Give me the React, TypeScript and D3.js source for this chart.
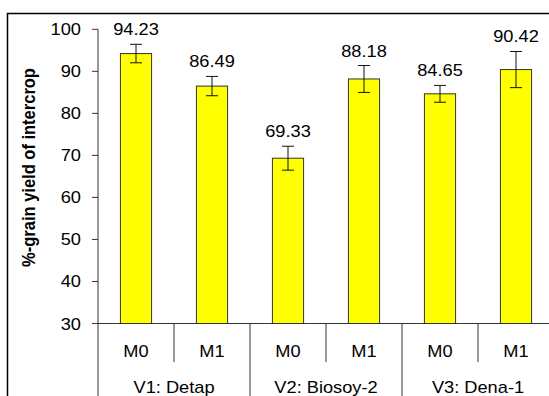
import React from "react";
import * as d3 from "d3";

const categories = ["M0", "M1", "M0", "M1", "M0", "M1"];
const groups = ["V1: Detap", "V2: Biosoy-2", "V3: Dena-1"];
const values = [94.23, 86.49, 69.33, 88.18, 84.65, 90.42];
const errors = [2.2, 2.3, 2.85, 3.2, 2.0, 4.3];
const yTicks = [30, 40, 50, 60, 70, 80, 90, 100];
const yLabel = "%-grain yield of intercrop";

const W = 549;
const H = 396;
const FONT = "Arial, 'Liberation Sans', sans-serif";
const SX = 1.14;

export default function App() {
  const x = d3
    .scaleBand<number>()
    .domain(values.map((_, i) => i))
    .range([98, 554])
    .paddingInner(0.59)
    .paddingOuter(0.295);
  const y = d3.scaleLinear().domain([30, 100]).range([323.5, 29.3]);
  const step = x.step();
  const x0 = 98;
  const axisY = y(30);

  const T = (props: {
    x: number;
    y: number;
    anchor?: string;
    size?: number;
    children: React.ReactNode;
  }) => (
    <text
      transform={`translate(${props.x},${props.y}) scale(${SX},1)`}
      textAnchor={props.anchor || "middle"}
      fontSize={props.size || 16}
      fontFamily={FONT}
      fill="#000"
    >
      {props.children}
    </text>
  );

  return (
    <svg
      width={W}
      height={H}
      style={{ position: "absolute", left: 0, top: 0, background: "#fff" }}
    >
      <rect x={0} y={0} width={W} height={H} fill="#fff" />
      <rect
        x={7.5}
        y={13.5}
        width={700}
        height={600}
        fill="none"
        stroke="#000"
        strokeWidth={1.5}
      />
      {/* Y axis label */}
      <text
        transform={`translate(35,${(68 + 267) / 2}) scale(${SX},1) rotate(-90)`}
        textAnchor="middle"
        fontSize={16.5}
        fontWeight="bold"
        fontFamily={FONT}
      >
        {yLabel}
      </text>
      {/* y axis */}
      <line x1={x0} x2={x0} y1={y(100)} y2={H + 5} stroke="#333" strokeWidth={1} />
      {yTicks.map((t) => (
        <g key={t}>
          <line x1={x0 - 6} x2={x0} y1={y(t)} y2={y(t)} stroke="#333" strokeWidth={1} />
          <T x={81} y={y(t) + 6} anchor="end">
            {t}
          </T>
        </g>
      ))}
      {/* x axis */}
      <line x1={x0 - 6} x2={W + 5} y1={axisY} y2={axisY} stroke="#333" strokeWidth={1} />
      {/* bars */}
      {values.map((v, i) => (
        <rect
          key={i}
          x={x(i)!}
          y={y(v)}
          width={x.bandwidth()}
          height={axisY - y(v)}
          fill="#ffff00"
          stroke="#333"
          strokeWidth={1}
        />
      ))}
      {/* error bars */}
      {values.map((v, i) => {
        const cx = x(i)! + x.bandwidth() / 2;
        return (
          <g key={i} stroke="#111" strokeWidth={1}>
            <line x1={cx} x2={cx} y1={y(v + errors[i])} y2={y(v - errors[i])} />
            <line x1={cx - 6} x2={cx + 6} y1={y(v + errors[i])} y2={y(v + errors[i])} />
            <line x1={cx - 6} x2={cx + 6} y1={y(v - errors[i])} y2={y(v - errors[i])} />
          </g>
        );
      })}
      {/* data labels */}
      {values.map((v, i) => (
        <T key={i} x={x(i)! + x.bandwidth() / 2} y={y(v + errors[i]) - 9}>
          {v.toFixed(2)}
        </T>
      ))}
      {/* category dividers */}
      {categories.map((_, i) =>
        i === 0 ? null : (
          <line
            key={i}
            x1={x0 + step * i}
            x2={x0 + step * i}
            y1={axisY}
            y2={i % 2 === 0 ? H + 5 : 362}
            stroke="#333"
            strokeWidth={1}
          />
        )
      )}
      {categories.map((c, i) => (
        <T key={i} x={x0 + step * (i + 0.5)} y={356.5}>
          {c}
        </T>
      ))}
      {groups.map((g, i) => (
        <T key={i} x={x0 + step * (2 * i + 1)} y={392.5}>
          {g}
        </T>
      ))}
    </svg>
  );
}
